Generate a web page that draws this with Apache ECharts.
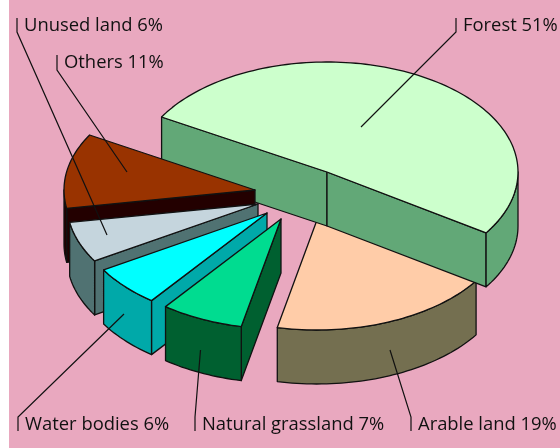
<!DOCTYPE html>
<html>
<head>
<meta charset="utf-8">
<script src="https://cdn.jsdelivr.net/npm/echarts@6/dist/echarts.min.js"></script>
<style>
  html, body { margin: 0; padding: 0; background: #fff; }
  #chart { width: 560px; height: 448px; }
</style>
</head>
<body>
<div id="chart"></div>
<script>
// values in pie order, clockwise
var categories = ["Forest", "Arable land", "Natural grassland", "Water bodies", "Unused land", "Others"];
var percents = [51, 19, 7, 6, 6, 11];

// colours and layout, same order as categories
var topColors = ["#ccffcc", "#ffcca8", "#00dc90", "#00ffff", "#c5d5dd", "#993300"];
var sideColors = ["#62a877", "#746f50", "#006030", "#00a9a9", "#507272", "#230000"];
var explode = [[0, 0], [-10, 48], [-46, 47], [-60, 41], [-69, 32], [-72, 18]];
var labelPos = [[463, 26], [418, 425], [202, 425], [25, 425], [24, 26], [64, 63]];
// tick end next to the label, then the point inside the slice
var leaders = [
  [[456, 18], [456, 32], [361, 127]],
  [[411, 431], [411, 417], [390, 350]],
  [[195, 431], [195, 417], [200.5, 350]],
  [[18, 431], [18, 417], [124, 314]],
  [[17, 18], [17, 32], [107, 235]],
  [[57, 55], [57, 70], [127, 172]]
];
// back to front
var drawOrder = [1, 0, 5, 4, 3, 2];

var cx = 327, cy = 172, rx = 191, ry = 110, depth = 54;
var startAngle = -60;

var angles = [];
var sum = 0;
percents.forEach(function (p) {
  angles.push([startAngle + sum * 3.6, startAngle + (sum + p) * 3.6]);
  sum += p;
});

function rimPoint(ax, ay, deg, drop) {
  var t = deg * Math.PI / 180;
  return [ax + rx * Math.sin(t), ay - ry * Math.cos(t) + drop];
}

function arc(ax, ay, from, to, drop) {
  var pts = [];
  var n = Math.max(2, Math.ceil(Math.abs(to - from) / 1.5));
  for (var i = 0; i <= n; i++) {
    pts.push(rimPoint(ax, ay, from + (to - from) * i / n, drop));
  }
  return pts;
}

function face(points, fill) {
  return {
    type: "polygon",
    shape: { points: points },
    style: { fill: fill, stroke: "#111", lineWidth: 1.3, lineJoin: "round" }
  };
}

function renderSlice(params, api) {
  var i = api.value(0);
  var a = angles[i];
  var ax = cx + explode[i][0];
  var ay = cy + explode[i][1];
  var side = sideColors[i];
  var children = [];

  // cut faces
  if (Math.sin(a[0] * Math.PI / 180) < 0) {
    var p = rimPoint(ax, ay, a[0], 0);
    children.push(face([[ax, ay], p, [p[0], p[1] + depth], [ax, ay + depth]], side));
  }
  if (Math.sin(a[1] * Math.PI / 180) > 0) {
    var q = rimPoint(ax, ay, a[1], 0);
    children.push(face([[ax, ay], q, [q[0], q[1] + depth], [ax, ay + depth]], side));
  }
  // outer rim, only the part turned to the viewer
  var from = Math.max(a[0], 90);
  var to = Math.min(a[1], 270);
  if (to > from) {
    var rim = arc(ax, ay, from, to, 0).concat(arc(ax, ay, to, from, depth));
    children.push(face(rim, side));
  }
  // top
  children.push(face([[ax, ay]].concat(arc(ax, ay, a[0], a[1], 0)), topColors[i]));
  return { type: "group", children: children };
}

function renderLabel(params, api) {
  var i = api.value(0);
  return {
    type: "group",
    children: [
      {
        type: "polyline",
        shape: { points: leaders[i] },
        style: { fill: null, stroke: "#111", lineWidth: 1.2 }
      },
      {
        type: "text",
        x: labelPos[i][0],
        y: labelPos[i][1],
        style: {
          text: categories[i] + " " + api.value(1) + "%",
          fill: "#111",
          font: '18.4px "Open Sans"',
          verticalAlign: "middle"
        }
      }
    ]
  };
}

var chart = echarts.init(document.getElementById("chart"));
chart.setOption({
  animation: false,
  backgroundColor: "#fff",
  graphic: [{
    type: "rect",
    z: 0,
    silent: true,
    shape: { x: 9, y: 0, width: 551, height: 448 },
    style: { fill: "#e9a8bf" }
  }],
  series: [
    {
      type: "custom",
      coordinateSystem: "none",
      silent: true,
      renderItem: renderSlice,
      data: drawOrder.map(function (i) { return [i, percents[i]]; })
    },
    {
      type: "custom",
      coordinateSystem: "none",
      silent: true,
      z: 3,
      renderItem: renderLabel,
      data: categories.map(function (c, i) { return [i, percents[i]]; })
    }
  ]
});
</script>
</body>
</html>
